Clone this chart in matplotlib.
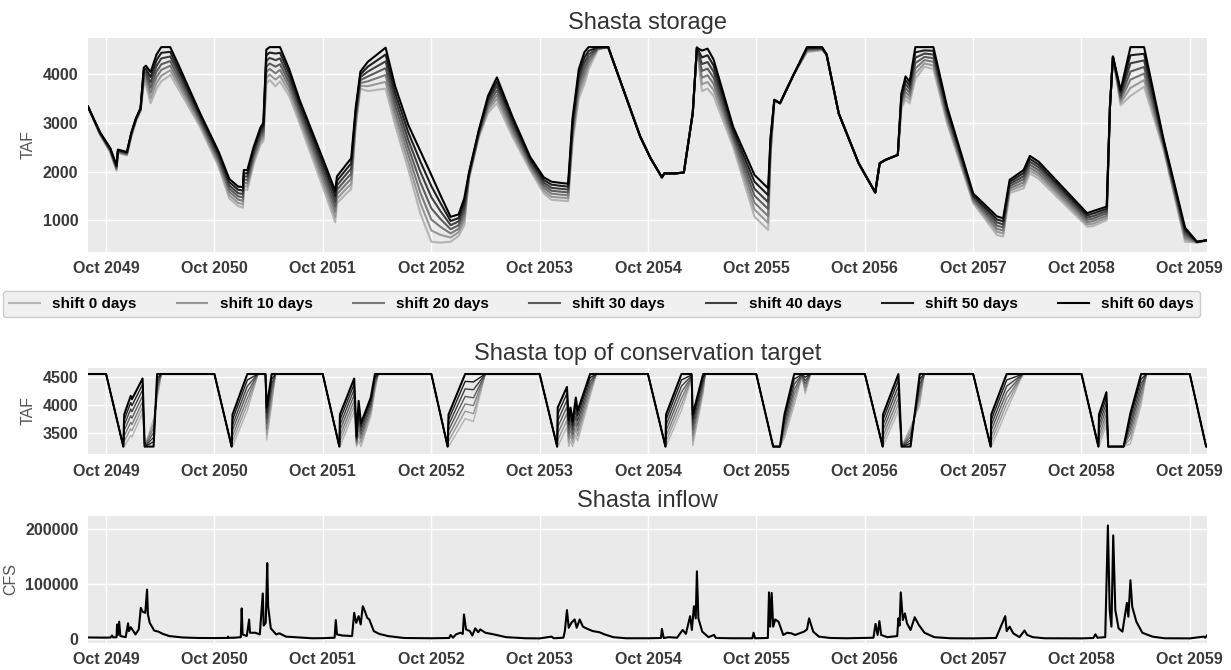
import pandas as pd
import matplotlib
matplotlib.use("Agg")
import matplotlib.pyplot as plt
import matplotlib.dates as mdates

# ---- data ------------------------------------------------------------------
shift_labels = ["shift 0 days", "shift 10 days", "shift 20 days", "shift 30 days",
                "shift 40 days", "shift 50 days", "shift 60 days"]

# Shasta storage (TAF)
storage_dates = [
    "2049-08-01", "2049-09-10", "2049-10-15", "2049-11-05", "2049-11-10", "2049-11-28", "2049-12-10", "2049-12-25", "2050-01-10", "2050-01-25",
    "2050-02-05", "2050-02-12", "2050-02-28", "2050-03-20", "2050-04-05", "2050-05-05", "2050-06-01", "2050-08-15", "2050-10-15", "2050-11-20",
    "2050-12-20", "2051-01-05", "2051-01-08", "2051-01-20", "2051-02-10", "2051-03-05", "2051-03-15", "2051-03-25", "2051-04-05", "2051-04-25",
    "2051-05-10", "2051-06-10", "2051-07-15", "2051-09-01", "2051-10-15", "2051-11-12", "2051-11-18", "2051-12-20", "2052-01-05", "2052-01-20",
    "2052-02-05", "2052-03-01", "2052-04-30", "2052-06-01", "2052-07-15", "2052-08-25", "2052-10-01", "2052-11-01", "2052-12-05", "2053-01-01",
    "2053-01-20", "2053-02-05", "2053-03-10", "2053-04-10", "2053-05-10", "2053-07-01", "2053-08-30", "2053-10-15", "2053-11-10", "2053-12-20",
    "2054-01-05", "2054-01-20", "2054-02-10", "2054-03-01", "2054-03-15", "2054-04-15", "2054-05-20", "2054-09-05", "2054-10-10", "2054-11-17",
    "2054-11-25", "2055-01-01", "2055-01-30", "2055-03-01", "2055-03-15", "2055-04-01", "2055-04-20", "2055-05-10", "2055-07-15", "2055-09-25",
    "2055-11-10", "2055-11-18", "2055-12-01", "2055-12-20", "2056-02-05", "2056-03-20", "2056-05-10", "2056-05-25", "2056-07-05", "2056-09-10",
    "2056-11-05", "2056-11-20", "2056-12-10", "2057-01-20", "2057-02-01", "2057-02-15", "2057-03-01", "2057-03-20", "2057-04-20", "2057-05-20",
    "2057-07-05", "2057-10-01", "2057-12-20", "2058-01-10", "2058-02-01", "2058-03-20", "2058-04-10", "2058-05-10", "2058-10-20", "2058-11-10",
    "2058-12-25", "2059-01-05", "2059-01-15", "2059-02-10", "2059-03-15", "2059-04-30", "2059-07-05", "2059-09-15", "2059-10-25", "2059-11-28",
]
storage_shift0 = [
    3330, 2760, 2390, 2020, 2380, 2350, 2330, 2720, 3040, 3240,
    3800, 3780, 3400, 3700, 3850, 3980, 3700, 2900, 2100, 1450,
    1290, 1260, 1640, 1620, 2150, 2550, 2620, 3800, 3880, 3750,
    3850, 3550, 2990, 2190, 1450, 960, 1350, 1550, 1640, 2900,
    3700, 3650, 3700, 2950, 2050, 1140, 560, 540, 560, 680,
    900, 1850, 2700, 3200, 3400, 2720, 2030, 1550, 1420, 1400,
    1390, 2600, 3500, 3800, 4100, 4500, 4552, 2715, 2270, 1880,
    1960, 1960, 1980, 3200, 4540, 3650, 3700, 3550, 2510, 1075,
    800, 2300, 3470, 3400, 4000, 4450, 4490, 4400, 3190, 2170,
    1570, 2170, 2240, 2340, 3300, 3470, 3400, 3900, 4150, 4100,
    2990, 1350, 700, 665, 1560, 1655, 1960, 1850, 870, 880,
    1005, 3330, 4355, 3360, 3550, 3740, 2440, 560, 540, 590,
]
storage_shift10 = [
    3330, 2770, 2405, 2040, 2390, 2360, 2340, 2735, 3050, 3250,
    3855, 3845, 3505, 3815, 3965, 4075, 3785, 2945, 2150, 1515,
    1355, 1330, 1705, 1690, 2210, 2610, 2685, 3915, 3990, 3885,
    3965, 3640, 3070, 2280, 1550, 1065, 1440, 1650, 1745, 2965,
    3760, 3750, 3840, 3085, 2200, 1355, 790, 700, 645, 755,
    990, 1870, 2725, 3260, 3490, 2790, 2075, 1605, 1480, 1460,
    1450, 2685, 3600, 3910, 4175, 4510, 4552, 2715, 2270, 1880,
    1960, 1960, 1980, 3200, 4540, 3790, 3835, 3675, 2580, 1220,
    945, 2365, 3470, 3400, 4000, 4465, 4500, 4400, 3190, 2170,
    1570, 2170, 2240, 2340, 3350, 3550, 3475, 4010, 4215, 4175,
    3045, 1385, 765, 730, 1605, 1720, 2020, 1910, 915, 930,
    1050, 3330, 4355, 3410, 3715, 3875, 2475, 610, 545, 590,
]
storage_shift20 = [
    3330, 2780, 2420, 2055, 2405, 2375, 2355, 2745, 3060, 3260,
    3910, 3910, 3615, 3935, 4085, 4170, 3865, 2995, 2205, 1585,
    1425, 1400, 1770, 1755, 2265, 2665, 2745, 4035, 4105, 4015,
    4085, 3735, 3150, 2370, 1650, 1175, 1535, 1750, 1850, 3035,
    3815, 3850, 3980, 3215, 2355, 1565, 1015, 865, 730, 825,
    1085, 1895, 2750, 3315, 3575, 2855, 2120, 1660, 1545, 1520,
    1510, 2765, 3700, 4015, 4250, 4520, 4552, 2715, 2270, 1880,
    1960, 1960, 1980, 3200, 4540, 3925, 3975, 3800, 2645, 1360,
    1085, 2435, 3470, 3400, 4000, 4485, 4510, 4400, 3190, 2170,
    1570, 2170, 2240, 2340, 3400, 3630, 3545, 4115, 4285, 4250,
    3105, 1415, 825, 790, 1650, 1780, 2080, 1965, 960, 985,
    1095, 3330, 4355, 3465, 3885, 4010, 2510, 655, 545, 590,
]
storage_shift30 = [
    3330, 2785, 2435, 2075, 2415, 2385, 2365, 2760, 3070, 3270,
    3965, 3975, 3720, 4050, 4200, 4265, 3950, 3040, 2255, 1650,
    1490, 1470, 1835, 1825, 2325, 2725, 2810, 4150, 4215, 4150,
    4200, 3825, 3230, 2460, 1750, 1280, 1625, 1850, 1955, 3100,
    3875, 3950, 4120, 3350, 2505, 1780, 1245, 1025, 815, 900,
    1175, 1915, 2775, 3375, 3665, 2925, 2165, 1715, 1605, 1580,
    1570, 2850, 3800, 4125, 4325, 4525, 4552, 2715, 2270, 1880,
    1960, 1960, 1980, 3200, 4540, 4065, 4110, 3925, 2715, 1505,
    1230, 2500, 3470, 3400, 4000, 4500, 4520, 4400, 3190, 2170,
    1570, 2170, 2240, 2340, 3450, 3710, 3620, 4225, 4350, 4325,
    3160, 1450, 890, 855, 1695, 1845, 2140, 2025, 1010, 1035,
    1145, 3330, 4355, 3515, 4050, 4145, 2545, 705, 550, 590,
]
storage_shift40 = [
    3330, 2795, 2450, 2095, 2425, 2395, 2375, 2775, 3080, 3280,
    4020, 4040, 3825, 4165, 4320, 4360, 4035, 3085, 2305, 1715,
    1555, 1540, 1900, 1895, 2385, 2785, 2875, 4265, 4330, 4285,
    4320, 3915, 3310, 2550, 1850, 1385, 1715, 1950, 2060, 3165,
    3935, 4050, 4260, 3485, 2655, 1995, 1475, 1185, 900, 975,
    1265, 1935, 2800, 3435, 3755, 2995, 2210, 1770, 1665, 1640,
    1630, 2935, 3900, 4235, 4400, 4535, 4552, 2715, 2270, 1880,
    1960, 1960, 1980, 3200, 4540, 4205, 4245, 4050, 2785, 1645,
    1370, 2565, 3470, 3400, 4000, 4520, 4530, 4400, 3190, 2170,
    1570, 2170, 2240, 2340, 3500, 3790, 3695, 4335, 4420, 4400,
    3215, 1485, 955, 915, 1740, 1905, 2200, 2085, 1055, 1085,
    1190, 3330, 4355, 3565, 4220, 4280, 2580, 755, 555, 590,
]
storage_shift50 = [
    3330, 2800, 2465, 2110, 2440, 2410, 2390, 2785, 3090, 3290,
    4075, 4105, 3935, 4285, 4435, 4455, 4115, 3135, 2360, 1785,
    1625, 1610, 1965, 1960, 2440, 2840, 2935, 4385, 4440, 4420,
    4435, 4010, 3390, 2640, 1950, 1495, 1810, 2050, 2165, 3235,
    3990, 4150, 4400, 3615, 2810, 2205, 1700, 1350, 985, 1045,
    1360, 1960, 2825, 3490, 3840, 3060, 2255, 1825, 1730, 1700,
    1690, 3015, 4000, 4340, 4475, 4545, 4552, 2715, 2270, 1880,
    1960, 1960, 1980, 3200, 4540, 4340, 4385, 4175, 2850, 1790,
    1515, 2635, 3470, 3400, 4000, 4535, 4540, 4400, 3190, 2170,
    1570, 2170, 2240, 2340, 3550, 3870, 3765, 4445, 4485, 4475,
    3275, 1515, 1015, 980, 1785, 1970, 2260, 2140, 1100, 1140,
    1235, 3330, 4355, 3620, 4385, 4415, 2615, 800, 555, 590,
]
storage_shift60 = [
    3330, 2810, 2480, 2130, 2450, 2420, 2400, 2800, 3100, 3300,
    4130, 4170, 4040, 4400, 4552, 4552, 4200, 3180, 2410, 1850,
    1690, 1680, 2030, 2030, 2500, 2900, 3000, 4500, 4552, 4552,
    4552, 4100, 3470, 2730, 2050, 1600, 1900, 2150, 2270, 3300,
    4050, 4250, 4540, 3750, 2960, 2420, 1930, 1510, 1070, 1120,
    1450, 1980, 2850, 3550, 3930, 3130, 2300, 1880, 1790, 1760,
    1750, 3100, 4100, 4450, 4552, 4552, 4552, 2715, 2270, 1880,
    1960, 1960, 1980, 3200, 4540, 4480, 4520, 4300, 2920, 1930,
    1655, 2700, 3470, 3400, 4000, 4552, 4552, 4400, 3190, 2170,
    1570, 2170, 2240, 2340, 3600, 3950, 3840, 4552, 4552, 4552,
    3330, 1550, 1080, 1040, 1830, 2030, 2320, 2200, 1145, 1190,
    1280, 3330, 4355, 3670, 4552, 4552, 2650, 850, 560, 590,
]

# Shasta top of conservation target (TAF)
tocs_dates = [
    "2049-08-01",
    "2049-10-01", "2049-11-28", "2049-12-01", "2049-12-23", "2049-12-27", "2050-02-01", "2050-02-08", "2050-03-10", "2050-03-22", "2050-04-05",
    "2050-10-01", "2050-11-28", "2050-12-01", "2051-01-20", "2051-02-25", "2051-03-22", "2051-03-26", "2051-04-12", "2051-04-25",
    "2051-10-01", "2051-11-26", "2051-11-28", "2052-01-15", "2052-01-23", "2052-01-30", "2052-02-07", "2052-03-11", "2052-03-25", "2052-04-05",
    "2052-10-01", "2052-11-25", "2052-11-28", "2053-01-23", "2053-02-20", "2053-04-01",
    "2053-10-01", "2053-11-29", "2053-12-01", "2054-01-01", "2054-01-07", "2054-01-13", "2054-01-20", "2054-01-31", "2054-02-06", "2054-03-20", "2054-04-10",
    "2054-10-01", "2054-11-29", "2054-12-01", "2055-01-22", "2055-02-25", "2055-03-01", "2055-04-05", "2055-04-12",
    "2055-10-01", "2055-11-27", "2055-12-20", "2056-01-04", "2056-02-06", "2056-03-03", "2056-03-14", "2056-04-01",
    "2056-10-01", "2056-11-30", "2056-12-01", "2057-01-22", "2057-02-02", "2057-03-04", "2057-04-04", "2057-04-19",
    "2057-10-01", "2057-11-29", "2057-12-01", "2058-01-22", "2058-03-18",
    "2058-10-01", "2058-11-27", "2058-11-29", "2058-12-24", "2058-12-30", "2059-02-20", "2059-03-15", "2059-04-20", "2059-05-08",
    "2059-10-01", "2059-11-25", "2059-11-28",
]
tocs_shift0 = [
    4552,
    4552, 3250, 3250, 3450, 3420, 3850, 3250, 3750, 4100, 4552,
    4552, 3250, 3250, 3900, 4552, 4552, 3370, 4000, 4552,
    4552, 3250, 3250, 3880, 3250, 3350, 3250, 3800, 4250, 4552,
    4552, 3250, 3250, 3750, 3700, 4552,
    4552, 3250, 3250, 3600, 3250, 3350, 3250, 3450, 3350, 4150, 4552,
    4552, 3250, 3250, 3900, 4450, 3270, 4200, 4552,
    4552, 3250, 3250, 3400, 4000, 4500, 4200, 4552,
    4552, 3250, 3250, 3900, 3250, 3600, 4000, 4552,
    4552, 3250, 3250, 3900, 4552,
    4552, 3250, 3250, 3650, 3250, 3250, 3300, 4000, 4552,
    4552, 3250, 3250,
]
tocs_shift10 = [
    4552,
    4552, 3250, 3345, 3570, 3535, 3955, 3250, 3665, 4175, 4552,
    4552, 3250, 3345, 4010, 4552, 4552, 3465, 4090, 4552,
    4552, 3250, 3345, 3980, 3280, 3470, 3320, 3855, 4300, 4552,
    4552, 3250, 3345, 3885, 3840, 4552,
    4552, 3250, 3365, 3720, 3330, 3450, 3325, 3565, 3440, 4215, 4552,
    4552, 3250, 3345, 4010, 4465, 3360, 4260, 4552,
    4552, 3250, 3250, 3470, 4090, 4510, 4260, 4552,
    4552, 3250, 3345, 4010, 3250, 3540, 4090, 4552,
    4552, 3250, 3345, 4010, 4552,
    4552, 3250, 3345, 3745, 3250, 3250, 3390, 4090, 4552,
    4552, 3250, 3250,
]
tocs_shift20 = [
    4552,
    4552, 3250, 3440, 3685, 3645, 4055, 3250, 3585, 4250, 4552,
    4552, 3250, 3440, 4115, 4552, 4552, 3565, 4185, 4552,
    4552, 3250, 3440, 4075, 3310, 3590, 3390, 3910, 4350, 4552,
    4552, 3250, 3440, 4015, 3985, 4552,
    4552, 3250, 3485, 3840, 3410, 3550, 3400, 3675, 3530, 4285, 4552,
    4552, 3250, 3440, 4115, 4485, 3455, 4315, 4552,
    4552, 3250, 3250, 3540, 4185, 4515, 4315, 4552,
    4552, 3250, 3440, 4115, 3250, 3485, 4185, 4552,
    4552, 3250, 3440, 4115, 4552,
    4552, 3250, 3440, 3840, 3250, 3250, 3485, 4185, 4552,
    4552, 3250, 3250,
]
tocs_shift30 = [
    4552,
    4552, 3250, 3540, 3805, 3760, 4160, 3250, 3500, 4325, 4552,
    4552, 3250, 3540, 4225, 4552, 4552, 3660, 4275, 4552,
    4552, 3250, 3540, 4175, 3340, 3710, 3460, 3965, 4400, 4552,
    4552, 3250, 3540, 4150, 4125, 4552,
    4552, 3250, 3600, 3960, 3490, 3650, 3475, 3790, 3620, 4350, 4552,
    4552, 3250, 3540, 4225, 4500, 3545, 4375, 4552,
    4552, 3250, 3250, 3610, 4275, 4525, 4375, 4552,
    4552, 3250, 3540, 4225, 3250, 3425, 4275, 4552,
    4552, 3250, 3540, 4225, 4552,
    4552, 3250, 3540, 3940, 3250, 3250, 3575, 4275, 4552,
    4552, 3250, 3250,
]
tocs_shift40 = [
    4552,
    4552, 3250, 3635, 3925, 3875, 4265, 3250, 3415, 4400, 4552,
    4552, 3250, 3635, 4335, 4552, 4552, 3755, 4370, 4552,
    4552, 3250, 3635, 4275, 3370, 3830, 3530, 4020, 4450, 4552,
    4552, 3250, 3635, 4285, 4270, 4552,
    4552, 3250, 3715, 4080, 3570, 3750, 3550, 3905, 3710, 4420, 4552,
    4552, 3250, 3635, 4335, 4520, 3640, 4435, 4552,
    4552, 3250, 3250, 3685, 4370, 4535, 4435, 4552,
    4552, 3250, 3635, 4335, 3250, 3365, 4370, 4552,
    4552, 3250, 3635, 4335, 4552,
    4552, 3250, 3635, 4035, 3250, 3250, 3665, 4370, 4552,
    4552, 3250, 3250,
]
tocs_shift50 = [
    4552,
    4552, 3250, 3730, 4040, 3985, 4365, 3250, 3335, 4475, 4552,
    4552, 3250, 3730, 4445, 4552, 4552, 3855, 4460, 4552,
    4552, 3250, 3730, 4370, 3400, 3950, 3600, 4075, 4500, 4552,
    4552, 3250, 3730, 4420, 4410, 4552,
    4552, 3250, 3835, 4200, 3650, 3850, 3625, 4015, 3800, 4485, 4552,
    4552, 3250, 3730, 4445, 4535, 3730, 4495, 4552,
    4552, 3250, 3250, 3755, 4460, 4545, 4495, 4552,
    4552, 3250, 3730, 4445, 3250, 3310, 4460, 4552,
    4552, 3250, 3730, 4445, 4552,
    4552, 3250, 3730, 4130, 3250, 3250, 3760, 4460, 4552,
    4552, 3250, 3250,
]
tocs_shift60 = [
    4552,
    4552, 3250, 3825, 4160, 4100, 4470, 3250, 3250, 4552, 4552,
    4552, 3250, 3825, 4552, 4552, 4552, 3950, 4552, 4552,
    4552, 3250, 3825, 4470, 3430, 4070, 3670, 4130, 4552, 4552,
    4552, 3250, 3825, 4552, 4552, 4552,
    4552, 3250, 3950, 4320, 3730, 3950, 3700, 4130, 3890, 4552, 4552,
    4552, 3250, 3825, 4552, 4552, 3825, 4552, 4552,
    4552, 3250, 3250, 3825, 4552, 4552, 4552, 4552,
    4552, 3250, 3825, 4552, 3250, 3250, 4552, 4552,
    4552, 3250, 3825, 4552, 4552,
    4552, 3250, 3825, 4225, 3250, 3250, 3850, 4552, 4552,
    4552, 3250, 3250,
]

# Shasta inflow (CFS)
inflow_dates = [
    "2049-08-01", "2049-09-13", "2049-10-16", "2049-10-21", "2049-10-25", "2049-11-05", "2049-11-07", "2049-11-10", "2049-11-14", "2049-11-18",
    "2049-12-06", "2049-12-14", "2049-12-17", "2049-12-23", "2050-01-01", "2050-01-08", "2050-01-19", "2050-01-26", "2050-02-01", "2050-02-10",
    "2050-02-16", "2050-02-19", "2050-02-25", "2050-03-12", "2050-03-26", "2050-04-10", "2050-05-02", "2050-06-15", "2050-08-09",
    "2050-10-01", "2050-11-14", "2050-11-16", "2050-11-18", "2050-12-06", "2050-12-29", "2051-01-01", "2051-01-04", "2051-01-18", "2051-01-26",
    "2051-01-29", "2051-02-16", "2051-03-03", "2051-03-13", "2051-03-16", "2051-03-23", "2051-03-28", "2051-03-31", "2051-04-09", "2051-04-27",
    "2051-05-08", "2051-05-30", "2051-08-26",
    "2051-10-01", "2051-11-10", "2051-11-14", "2051-11-18", "2051-12-06", "2052-01-08", "2052-01-15", "2052-01-22", "2052-01-30", "2052-02-06",
    "2052-02-13", "2052-02-20", "2052-02-28", "2052-03-06", "2052-03-21", "2052-04-08", "2052-05-08", "2052-07-01",
    "2052-10-01", "2052-11-30", "2052-12-05", "2052-12-13", "2052-12-23", "2053-01-07", "2053-01-15", "2053-01-19", "2053-01-26", "2053-02-08",
    "2053-02-16", "2053-02-26", "2053-03-08", "2053-03-15", "2053-04-01", "2053-04-30", "2053-06-10", "2053-08-15",
    "2053-10-01", "2053-11-10", "2053-11-18", "2053-12-20", "2053-12-25", "2054-01-01", "2054-01-07", "2054-01-16", "2054-01-27", "2054-02-03",
    "2054-02-13", "2054-02-24", "2054-03-11", "2054-03-29", "2054-04-20", "2054-05-08", "2054-06-06", "2054-07-20",
    "2054-10-01", "2054-11-14", "2054-11-17", "2054-11-23", "2054-12-10", "2055-01-07", "2055-01-26", "2055-02-06", "2055-02-20", "2055-02-26",
    "2055-03-05", "2055-03-11", "2055-03-15", "2055-03-20", "2055-04-02", "2055-04-23", "2055-05-12", "2055-05-18", "2055-07-15",
    "2055-09-18", "2055-09-22", "2055-09-27", "2055-11-09", "2055-11-13", "2055-11-17", "2055-11-22", "2055-11-27", "2055-12-04", "2055-12-15",
    "2055-12-31", "2056-01-13", "2056-01-27", "2056-02-09", "2056-03-10", "2056-03-20", "2056-03-27", "2056-04-10", "2056-04-29", "2056-06-07",
    "2056-08-01",
    "2056-10-30", "2056-11-06", "2056-11-13", "2056-11-19", "2056-11-25", "2056-12-16", "2057-01-18", "2057-01-22", "2057-01-26", "2057-01-30",
    "2057-02-06", "2057-02-13", "2057-02-20", "2057-03-04", "2057-03-18", "2057-04-01", "2057-04-20", "2057-05-23", "2057-07-16",
    "2057-10-01", "2057-12-17", "2058-01-17", "2058-01-22", "2058-02-01", "2058-02-13", "2058-03-06", "2058-03-23", "2058-04-01", "2058-04-20",
    "2058-05-29",
    "2058-10-01", "2058-11-10", "2058-11-17", "2058-11-24", "2058-12-20", "2058-12-29", "2059-01-04", "2059-01-10", "2059-01-16", "2059-01-23",
    "2059-02-03", "2059-02-16", "2059-03-03", "2059-03-08", "2059-03-15", "2059-03-21", "2059-04-04", "2059-04-24", "2059-05-28", "2059-07-07",
    "2059-10-01", "2059-11-17", "2059-11-22", "2059-11-28",
]
inflow_cfs = [
    3500, 3200, 3300, 7000, 3500, 4000, 27000, 8000, 32000, 6000,
    4000, 29000, 15000, 22000, 15000, 9000, 18000, 57000, 50000, 48000,
    90000, 45000, 30000, 16000, 14000, 10000, 6000, 3500, 2500,
    2400, 2600, 5000, 2800, 3000, 4000, 56000, 9000, 6000, 36000,
    12000, 12000, 9000, 83000, 25000, 30000, 138000, 60000, 20000, 9000,
    11000, 5000, 2000,
    2200, 3000, 35000, 9000, 7000, 6000, 48000, 30000, 42000, 27000,
    60000, 51000, 39000, 36000, 15000, 10000, 6000, 2500,
    2000, 2500, 8000, 3000, 9000, 12000, 10000, 45000, 18000, 15000,
    7000, 20000, 13000, 18000, 12000, 9000, 4000, 2000,
    1800, 5000, 2000, 3000, 15000, 53000, 21000, 30000, 36000, 21000,
    36000, 23000, 19000, 15000, 13000, 9000, 4000, 2000,
    2000, 2500, 19000, 2500, 4000, 3000, 17000, 10000, 42000, 17000,
    60000, 38000, 123000, 38000, 14000, 4000, 8000, 2500, 2000,
    2000, 12000, 2000, 2500, 85000, 23000, 84000, 23000, 36000, 32000,
    8000, 12000, 11000, 8000, 14000, 18000, 38000, 14000, 5000, 2500,
    2000,
    3000, 28000, 8000, 33000, 8000, 4000, 6000, 38000, 25000, 85000,
    35000, 47000, 29000, 17000, 40000, 26000, 12000, 4000, 2000,
    1800, 2500, 42000, 15000, 23000, 11000, 4000, 16000, 8000, 4000,
    2000,
    1800, 2500, 9000, 3000, 4000, 206000, 53000, 23000, 188000, 53000,
    20000, 14000, 66000, 41000, 107000, 59000, 32000, 12000, 5000, 2000,
    1800, 5000, 3000, 7000,
]

storage_series = [storage_shift0, storage_shift10, storage_shift20, storage_shift30,
                  storage_shift40, storage_shift50, storage_shift60]
tocs_series = [tocs_shift0, tocs_shift10, tocs_shift20, tocs_shift30,
               tocs_shift40, tocs_shift50, tocs_shift60]

# ---- plotting ---------------------------------------------------------------
plt.rcParams["font.family"] = ["Liberation Sans", "DejaVu Sans"]
plt.rcParams["font.weight"] = "bold"

greys = ["#b4b4b4", "#989898", "#7a7a7a", "#5c5c5c", "#404040", "#1e1e1e", "#000000"]

W, H = 1231, 670
fig = plt.figure(figsize=(W / 100, H / 100), dpi=100)


def px_axes(top, bottom):
    return fig.add_axes([88 / W, 1 - bottom / H, 1119 / W, (bottom - top) / H])


ax1 = px_axes(37.7, 251.7)
ax2 = px_axes(368.0, 453.8)
ax3 = px_axes(515.5, 642.7)

x0, x1 = pd.Timestamp("2049-08-01"), pd.Timestamp("2059-11-28")


def style(ax, title, ylabel, yticks, ylim):
    ax.set_facecolor("#EAEAEA")
    ax.grid(True, color="white", lw=1.0)
    ax.set_axisbelow(True)
    for s in ax.spines.values():
        s.set_visible(False)
    ax.tick_params(length=0, pad=7, labelsize=11.5, labelcolor="#3a3a3a")
    ax.set_title(title, fontsize=17, color="#333333", fontweight="normal", pad=6)
    ax.set_ylabel(ylabel, fontsize=11.5, color="#555555", fontweight="normal", labelpad=5)
    ax.xaxis.set_major_locator(mdates.MonthLocator(bymonth=10))
    ax.xaxis.set_major_formatter(mdates.DateFormatter("%b %Y"))
    ax.set_xlim(x0, x1)
    ax.set_yticks(yticks)
    ax.set_ylim(*ylim)


sd = pd.to_datetime(storage_dates)
for vals, col, lab in zip(storage_series, greys, shift_labels):
    ax1.plot(sd, vals, color=col, lw=1.5, label=lab)
style(ax1, "Shasta storage", "TAF", [1000, 2000, 3000, 4000], (355, 4745))

td = pd.to_datetime(tocs_dates)
for i, (vals, col) in enumerate(zip(tocs_series, greys)):
    ax2.plot(td, vals, color=col, lw=1.5 if i == 6 else 1.0)
style(ax2, "Shasta top of conservation target", "TAF", [3500, 4000, 4500], (3120, 4660))

ax3.plot(pd.to_datetime(inflow_dates), inflow_cfs, color="black", lw=1.5)
style(ax3, "Shasta inflow", "CFS", [0, 100000, 200000], (-6000, 224000))

handles, labels = ax1.get_legend_handles_labels()
fig.legend(handles, labels, loc="center", ncol=7, mode="expand",
           bbox_to_anchor=(3 / W, 1 - 318 / H, 1197 / W, 28 / H),
           fontsize=11, frameon=True, facecolor="#F0F0F0", edgecolor="#CCCCCC",
           framealpha=1.0, handletextpad=0.8, borderaxespad=0)

fig.savefig("out.png", dpi=100)
